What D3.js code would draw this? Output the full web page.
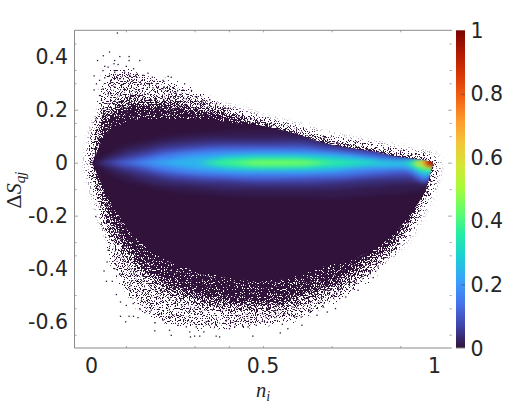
<!DOCTYPE html>
<html><head><meta charset="utf-8">
<script src="https://cdn.jsdelivr.net/npm/d3@7"></script>
<style>html,body{margin:0;padding:0;background:#fff}svg{display:block}text{font-family:"DejaVu Sans";fill:#262626}</style>
</head><body><svg id="c" width="523" height="405"></svg>
<script>
// All values below.
const xTicks=[.1,.3,.4,.5,.7,.9], xLabels=[0,.5,1];
const yTicksShort=[.45,.35,.3,.15,.1,-.1,-.3,-.35,-.5,-.55,-.65], yTicksLong=[.2,0,-.2], yLabels=[.4,.2,0,-.2,-.4,-.6];
const cLabels=[0,.2,.4,.6,.8,1], cTicks=[.2,.8];
const turboStops=['#30123b','#4145ab','#4675ed','#39a2fc','#1bcfd4','#24eca6','#61fc6c','#a4fc3b','#d1e834','#f3c63a','#fe9b2d','#f36315','#d93806','#b11901','#7a0402'];

// envelope of the point cloud: n, then full-density edge, half-density edge, sparse edge
const envN=[.003,.01,.025,.05,.08,.12,.17,.22,.32,.41,.49,.59,.68,.78,.83,.88,.92,.956,.97,.985,.995];
const solidTop=[.003,.02,.07,.12,.14,.16,.165,.165,.165,.15,.14,.11,.073,.05,.04,.025,.018,.012,.009,.005,.002];
const solidLow=[-.003,-.025,-.07,-.13,-.2,-.27,-.33,-.37,-.41,-.435,-.445,-.43,-.39,-.355,-.32,-.27,-.21,-.145,-.115,-.055,-.008];
const fringeTop=[.005,.05,.13,.19,.21,.235,.225,.225,.205,.178,.148,.115,.08,.055,.044,.029,.02,.014,.01,.006,.003];
const fringeLow=[-.005,-.04,-.11,-.22,-.29,-.36,-.43,-.47,-.52,-.54,-.54,-.52,-.475,-.406,-.356,-.305,-.24,-.15,-.118,-.056,-.009];
const sparseTop=[.01,.14,.27,.35,.36,.35,.33,.31,.26,.2,.16,.122,.086,.056,.044,.029,.02,.014,.01,.006,.003];
const sparseLow=[-.01,-.09,-.2,-.36,-.46,-.53,-.58,-.61,-.63,-.63,-.62,-.6,-.55,-.47,-.41,-.34,-.27,-.16,-.12,-.056,-.009];

// colour-band extents above (U) and below (D) the centre line, read per column
const bandN=[0,.02,.05,.1,.15,.2,.3,.4,.5,.6,.7,.8,.85,.9,.93,.95,.97,.98,.99,1];
const bandLevels=[.012,.035,.07,.12,.17,.24,.31,.38,.45,.55,.7,.85,.97];
const U03=[0,.01,.035,.065,.08,.095,.11,.12,.125,.125,.12,.1,.08,.06,.05,.04,.03,.03,.03,.03];
const D03=[0,.012,.04,.07,.085,.1,.115,.125,.13,.13,.135,.125,.12,.117,.11,.105,.1,.09,.08,.08];
const U06=[0,.004,.02,.045,.06,.075,.09,.095,.095,.095,.09,.08,.07,.05,.04,.03,.03,.03,.03,.03];
const D06=[0,.004,.02,.045,.065,.08,.09,.1,.1,.1,.1,.09,.085,.08,.08,.08,.08,.08,.07,.07];
const U10=[0,0,.005,.025,.04,.055,.07,.075,.075,.078,.06,.05,.04,.03,.03,.03,.03,.03,.03,.03];
const D10=[0,0,.005,.025,.04,.055,.07,.075,.08,.08,.075,.065,.062,.06,.06,.07,.075,.07,.06,.06];
const U14=[0,0,0,.008,.022,.038,.053,.06,.06,.06,.05,.035,.028,.02,.02,.02,.02,.02,.02,.02];
const D14=[0,0,0,.008,.022,.038,.053,.06,.065,.062,.06,.05,.045,.04,.045,.06,.075,.07,.06,.06];
const U19=[0,0,0,0,.008,.024,.042,.048,.05,.049,.04,.028,.018,.015,.015,.02,.02,.02,.02,.02];
const D19=[0,0,0,0,.008,.024,.042,.048,.05,.049,.045,.035,.03,.027,.033,.048,.06,.06,.05,.05];
const U25=[0,0,0,0,0,.005,.024,.034,.036,.036,.033,.02,.012,.01,.012,.016,.02,.02,.02,.02];
const D25=[0,0,0,0,0,.005,.024,.034,.036,.036,.033,.02,.02,.018,.024,.04,.05,.05,.044,.044];
const U31=[0,0,0,0,0,0,0,.022,.027,.026,.02,.01,.003,.002,.008,.014,.02,.02,.02,.02];
const D31=[0,0,0,0,0,0,0,.022,.027,.026,.02,.01,.005,.003,.014,.03,.04,.04,.038,.038];
const U38=[0,0,0,0,0,0,0,.011,.017,.017,.006,0,0,0,0,.008,.016,.02,.02,.02];
const D38=[0,0,0,0,0,0,0,.011,.018,.017,.006,0,0,0,.004,.022,.03,.032,.032,.032];
const U45=[0,0,0,0,0,0,0,0,.009,.008,0,0,0,0,0,.003,.012,.02,.02,.02];
const D45=[0,0,0,0,0,0,0,0,.01,.009,0,0,0,0,0,.015,.022,.026,.027,.027];
const U55=[0,0,0,0,0,0,0,0,0,0,0,0,0,0,0,.006,.012,.02,.02,.02];
const D55=[0,0,0,0,0,0,0,0,0,0,0,0,0,0,0,.009,.017,.021,.023,.023];
const U70=[0,0,0,0,0,0,0,0,0,0,0,0,0,0,0,0,.01,.02,.02,.02];
const D70=[0,0,0,0,0,0,0,0,0,0,0,0,0,0,0,0,.01,.016,.019,.019];
const U85=[0,0,0,0,0,0,0,0,0,0,0,0,0,0,0,0,0,.01,.02,.02];
const D85=[0,0,0,0,0,0,0,0,0,0,0,0,0,0,0,0,0,.01,.014,.014];
const U97=[0,0,0,0,0,0,0,0,0,0,0,0,0,0,0,0,0,.004,.012,.012];
const D97=[0,0,0,0,0,0,0,0,0,0,0,0,0,0,0,0,0,.004,.008,.008];
const bandUp=[U03,U06,U10,U14,U19,U25,U31,U38,U45,U55,U70,U85,U97];
const bandDown=[D03,D06,D10,D14,D19,D25,D31,D38,D45,D55,D70,D85,D97];

// isolated points: [n, dS]
const outliers=[[.075,.49],[.017,.386],[.034,.404],[.052,.418],[.067,.386],[.082,.401],[.109,.401],[.109,.386],[.14,.386],[.065,.374],[.038,.364],[.048,.361],[.077,.371],[.101,.364],[.122,.355],[.164,.338],[.177,.323],[.223,.326],[.232,.323],[.007,.328],[.033,.348],[.052,.33],[.067,.342],[.096,.342],[.111,.33],[.13,.333],[.15,.33],[.189,.298],[.208,.311],[.271,.298],[.266,.275],[.237,.283],[.291,.273],[.305,.248],[.325,.235],[.344,.238],[.364,.223],[.397,.204],[.007,.275],[.014,.298],[.023,.311],[.038,.321],[.057,.311],[.082,.317],[.023,.254],[.012,.166],[.033,.279],[.048,.26],[.067,.286],[.086,.292],[.12,.311],[.145,.298],[.164,.298],[.179,.283],[.208,.279],[.247,.26],[.276,.241],[.431,.191],[.466,.166],[.485,.153],[.524,.151],[.529,.141],[.636,.103],[.679,.094],[.718,.072],[.772,.059],[.801,.049],
[.012,-.203],[.028,-.233],[.036,-.409],[.043,-.448],[.06,-.448],[.072,-.498],[.084,-.526],[.084,-.58],[.099,-.601],[.109,-.58],[.122,-.58],[.135,-.585],[.155,-.566],[.184,-.605],[.184,-.635],[.227,-.633],[.232,-.652],[.286,-.639],[.288,-.658],[.3,-.655],[.315,-.655],[.327,-.639],[.363,-.655],[.373,-.658],[.402,-.627],[.417,-.62],[.441,-.618],[.456,-.62],[.47,-.655],[.48,-.614],[.045,-.375],[.048,-.33],[.067,-.4],[.082,-.419],[.096,-.463],[.111,-.476],[.121,-.532],[.101,-.539],[.14,-.551],[.174,-.557],[.198,-.57],[.208,-.595],[.227,-.583],[.252,-.614],[.276,-.62],[.305,-.62],[.334,-.601],[.363,-.614],[.393,-.595],[.431,-.589],
[.55,-.643],[.572,-.627],[.613,-.614],[.556,-.61],[.592,-.583],[.611,-.583],[.657,-.576],[.534,-.585],[.509,-.585],[.504,-.601],[.711,-.551],[.687,-.564],[.675,-.545],[.741,-.507],[.723,-.513],[.777,-.482],[.762,-.476],[.821,-.434],[.835,-.394],[.854,-.359],[.874,-.337],[.898,-.306],[.636,-.557],[.587,-.545],[.563,-.57]];

const svg=d3.select('#c'), M={l:74.5,r:451.7,t:30.3,b:348};
const x=d3.scaleLinear([-.05,1.05],[M.l,M.r]), y=d3.scaleLinear([-.7,.5],[M.b,M.t]);
const turbo=d3.scaleLinear(turboStops.map((_,i)=>i/(turboStops.length-1)),turboStops);
const base=turboStops[0], frame='#8a8a8a';
const defs=svg.append('defs');

// grain of the cloud's thinning edges: a texture filter only, it carries no data
function grain(id,seed,blur,offset){
 const st=defs.append('filter').attr('id',id).attr('filterUnits','userSpaceOnUse')
  .attr('x',0).attr('y',0).attr('width',523).attr('height',405).attr('color-interpolation-filters','sRGB');
 st.append('feTurbulence').attr('type','fractalNoise').attr('baseFrequency',.85).attr('numOctaves',2).attr('seed',seed).attr('result','n');
 st.append('feColorMatrix').attr('in','n').attr('type','matrix').attr('values',`0 0 0 0 0  0 0 0 0 0  0 0 0 0 0  0 0 0 3.5 ${offset}`).attr('result','na');
 st.append('feGaussianBlur').attr('in','SourceAlpha').attr('stdDeviation',blur).attr('result','b');
 st.append('feComposite').attr('in','b').attr('in2','na').attr('operator','arithmetic').attr('k1',0).attr('k2',1).attr('k3',1).attr('k4',-1).attr('result','sum');
 st.append('feComponentTransfer').attr('in','sum').attr('result','t').append('feFuncA').attr('type','linear').attr('slope',8).attr('intercept',0);
 st.append('feFlood').attr('flood-color',base).attr('result','f');
 st.append('feComposite').attr('in','f').attr('in2','t').attr('operator','in');
}
grain('stipple',3,6,-1.25);
grain('sparse',11,3,-1.95);
defs.append('filter').attr('id','soft').attr('filterUnits','userSpaceOnUse').attr('x',0).attr('y',0).attr('width',523).attr('height',405)
 .attr('color-interpolation-filters','sRGB').append('feGaussianBlur').attr('stdDeviation',2);

const envArea=(top,low)=>d3.area().curve(d3.curveMonotoneX).x((_,i)=>x(envN[i])).y0((_,i)=>y(low[i])).y1((_,i)=>y(top[i]))(envN);
defs.append('clipPath').attr('id','body').append('path').attr('d',envArea(solidTop,solidLow));

// outer points
svg.append('g').selectAll('rect').data(outliers).join('rect')
 .attr('x',d=>x(d[0])-.6).attr('y',d=>y(d[1])-.6).attr('width',1.3).attr('height',1.3).attr('fill',base);
// sparse zone, fringe, solid body
svg.append('path').attr('d',envArea(sparseTop,sparseLow)).attr('fill',base).attr('filter','url(#sparse)');
svg.append('path').attr('d',envArea(fringeTop,fringeLow)).attr('fill',base).attr('filter','url(#stipple)');
svg.append('path').attr('d',envArea(solidTop,solidLow)).attr('fill',base);
// colour bands
const gb=svg.append('g').attr('clip-path','url(#body)').append('g').attr('filter','url(#soft)');
gb.append('rect').attr('x',M.l).attr('y',M.t).attr('width',M.r-M.l).attr('height',M.b-M.t).attr('fill',base);
bandLevels.forEach((lv,k)=>{
  const a=d3.area().curve(d3.curveMonotoneX).x((_,i)=>x(bandN[i])).y0((_,i)=>y(-bandDown[k][i])).y1((_,i)=>y(bandUp[k][i]));
  gb.append('path').attr('d',a(bandN)).attr('fill',turbo(lv));
});

// axes
function styleAxis(g){g.select('.domain').remove();g.selectAll('line').attr('stroke',frame).attr('stroke-width',.8);}
svg.append('g').attr('transform',`translate(0,${M.b})`).call(d3.axisTop(x).tickValues(xTicks).tickSize(2).tickFormat('')).call(styleAxis);
svg.append('g').attr('transform',`translate(0,${M.t})`).call(d3.axisBottom(x).tickValues(xTicks).tickSize(2).tickFormat('')).call(styleAxis);
svg.append('g').attr('transform',`translate(${M.l},0)`).call(d3.axisRight(y).tickValues(yTicksShort).tickSize(2).tickFormat('')).call(styleAxis);
svg.append('g').attr('transform',`translate(${M.r},0)`).call(d3.axisLeft(y).tickValues(yTicksShort).tickSize(2).tickFormat('')).call(styleAxis);
svg.append('g').attr('transform',`translate(${M.l},0)`).call(d3.axisRight(y).tickValues(yTicksLong).tickSize(3.5).tickFormat('')).call(styleAxis);
svg.append('g').attr('transform',`translate(${M.r},0)`).call(d3.axisLeft(y).tickValues(yTicksLong).tickSize(3.5).tickFormat('')).call(styleAxis);
svg.append('path').attr('d',`M${M.l},${M.t}H${M.r}M${M.l},${M.t}V${M.b}H${M.r}`).attr('fill','none').attr('stroke',frame).attr('stroke-width',1);

const fmt=d=>String(d);
svg.append('g').selectAll('text').data(xLabels).join('text').attr('x',d=>x(d)).attr('y',373).attr('text-anchor','middle').attr('font-size',20.5).text(fmt);
svg.append('g').selectAll('text').data(yLabels).join('text').attr('x',68).attr('y',d=>y(d)+7.5).attr('text-anchor','end').attr('font-size',20.5).text(fmt);

// colour bar
const cx0=456,cx1=465, cy=d3.scaleLinear([0,1],[M.b,M.t]);
const lg=defs.append('linearGradient').attr('id','cb').attr('x1',0).attr('x2',0).attr('y1',1).attr('y2',0);
turboStops.forEach((c,i)=>lg.append('stop').attr('offset',i/(turboStops.length-1)).attr('stop-color',c));
svg.append('rect').attr('x',cx0).attr('y',cy(1)).attr('width',cx1-cx0).attr('height',cy(0)-cy(1)).attr('fill','url(#cb)');
svg.append('path').attr('d',`M${cx0},${M.b}H${cx1}`).attr('stroke',frame);
svg.append('g').attr('transform',`translate(${cx1},0)`).call(d3.axisLeft(cy).tickValues(cTicks).tickSize(4).tickFormat('')).call(g=>{g.select('.domain').remove();g.selectAll('line').attr('stroke','#555').attr('stroke-width',.8);});
svg.append('g').selectAll('text').data(cLabels).join('text').attr('x',470.5).attr('y',d=>cy(d)+7.5).attr('font-size',20.5).text(fmt);

// axis titles
const tx=svg.append('text').attr('x',263).attr('y',396.5).attr('text-anchor','middle').style('font-family','"Liberation Serif"').attr('font-style','italic').attr('font-size',20.5);
tx.append('tspan').text('n');tx.append('tspan').attr('dy',4).attr('font-size',14).text('i');
const ty=svg.append('text').attr('transform','translate(20.5,190) rotate(-90)').attr('text-anchor','middle').style('font-family','"Liberation Serif"').attr('font-size',22);
ty.append('tspan').text('Δ');ty.append('tspan').attr('font-style','italic').text('S');ty.append('tspan').attr('font-style','italic').attr('dy',4).attr('font-size',15).text('qj');
</script></body></html>
